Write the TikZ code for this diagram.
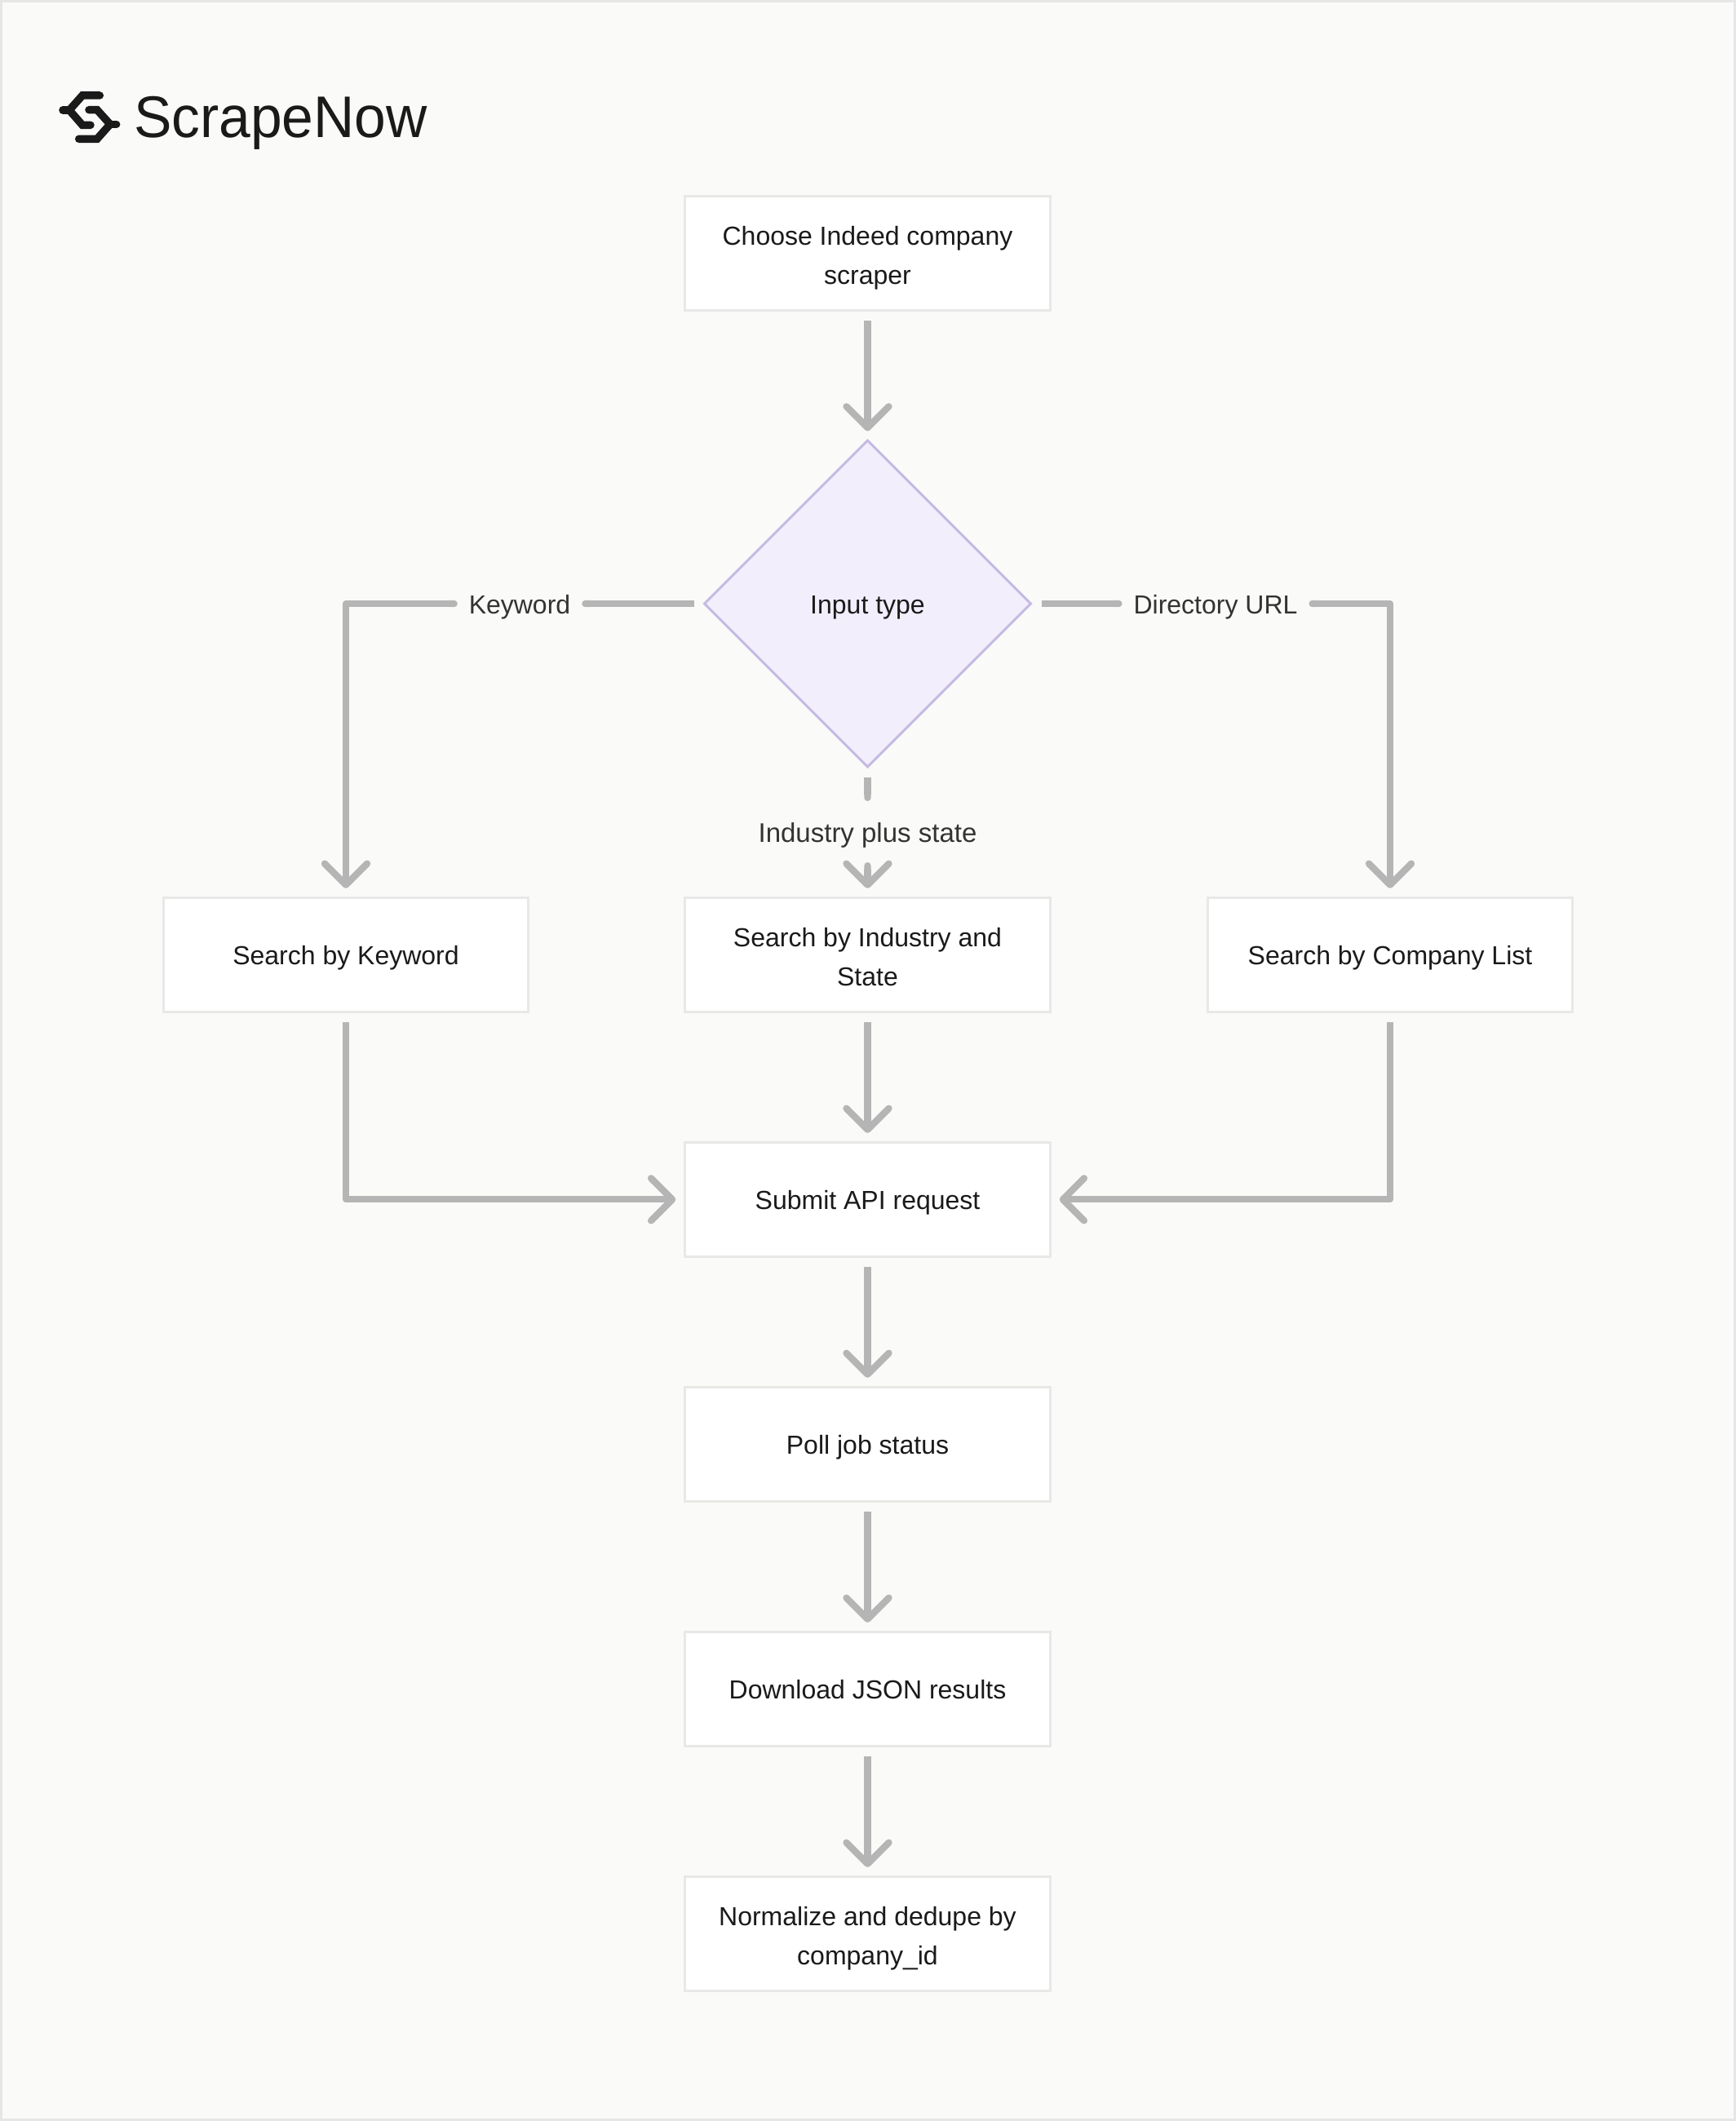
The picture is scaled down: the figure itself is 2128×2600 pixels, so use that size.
\documentclass[tikz,border=0pt]{standalone}
\usepackage{fontspec}
\setmainfont{Liberation Sans}
\newfontfamily\brandfont[FakeStretch=0.966]{Liberation Sans}
\usetikzlibrary{arrows.meta,shapes.geometric}
\definecolor{pagebg}{HTML}{FAFAF8}
\definecolor{pageedge}{HTML}{E6E6E6}
\definecolor{boxedge}{HTML}{E8E8E6}
\definecolor{wire}{HTML}{B5B5B5}
\definecolor{ink}{HTML}{1A1A1A}
\definecolor{labelink}{HTML}{333333}
\definecolor{dfill}{HTML}{F2EEFC}
\definecolor{dedge}{HTML}{C5BBE3}
\newcommand\linestrut{\rule[-8pt]{0pt}{41pt}}
\newcommand\liftstrut{\rule[-8pt]{0pt}{44.6pt}}
\newcommand\nextline{\\\linestrut}
\tikzset{
  x=1pt,y=-1pt,
  bodytext/.style={font=\fontsize{32}{48}\selectfont,execute at begin node=\linestrut},
  stepbox/.style={bodytext,draw=boxedge,line width=3pt,fill=white,minimum width=447.5pt,minimum height=140pt,
    align=center,inner sep=0pt,outer sep=0pt,text=ink},
  choice/.style={bodytext,shape=diamond,aspect=1,draw=dedge,line width=3pt,fill=dfill,minimum width=400pt,minimum height=400pt,
    inner sep=0pt,outer sep=0pt,text=ink},
  edgelabel/.style={bodytext,text=labelink,inner sep=0pt,outer sep=0pt},
  headtip/.style={-{Straight Barb[length=26pt,width=52pt,line cap=round,line join=round]}},
  conn/.style={draw=wire,line width=8.3pt,line join=round,headtip,shorten >=11.5pt,shorten <=13pt},
  resume/.style={conn,{Round Cap[length=4pt]}-{Straight Barb[length=26pt,width=52pt,line cap=round,line join=round]}},
  stub/.style={draw=wire,line width=8.3pt,-{Round Cap[length=4pt]},shorten <=13pt},
  logo/.style={draw=ink,line width=9.5pt,line cap=round,line join=miter},
}
\begin{document}
\begin{tikzpicture}
\useasboundingbox (0,0) rectangle (2128,2600);
\draw[draw=pageedge,fill=pagebg,line width=3pt] (1.5,1.5) rectangle (2126.5,2598.5);
% logo
\begin{scope}[shift={(45,61)},x=0.3333pt,y=-0.3333pt]
\draw[logo] (232,168) -- (168,168) -- (120,222) -- (168,277) -- (198,277);
\draw[logo] (96,222) -- (120,222);
\draw[logo] (155,328) -- (222,328) -- (270,274) -- (222,221) -- (192,221);
\draw[logo] (270,274) -- (293,274);
\end{scope}
\node[anchor=west,inner sep=0pt,text=ink,font=\brandfont\fontsize{72}{80}\selectfont] (brand) at (164,151) {ScrapeNow};
% nodes
\node[stepbox] (start) at (1063.5,310.3) {\liftstrut Choose Indeed company\nextline scraper};
\node[choice] (input) at (1063.5,740) {Input type};
\node[stepbox] (kw) at (424,1170.3) {Search by Keyword};
\node[stepbox] (ind) at (1063.5,1170.3) {\liftstrut Search by Industry and\nextline State};
\node[stepbox] (list) at (1704,1170.3) {Search by Company List};
\node[stepbox] (submit) at (1063.5,1470.3) {Submit API request};
\node[stepbox] (poll) at (1063.5,1770.3) {Poll job status};
\node[stepbox] (dl) at (1063.5,2070.3) {Download JSON results};
\node[stepbox] (norm) at (1063.5,2370.3) {\liftstrut Normalize and dedupe by\nextline company\_id};
% labels
\node[edgelabel] (lk) at (637,740) {Keyword};
\node[edgelabel] (ld) at (1490,740) {Directory URL};
\node[edgelabel,font=\fontsize{33}{48}\selectfont] (li) at (1063.5,1020) {Industry plus state};
% connectors
\draw[conn] (start) -- (input);
\draw[stub,shorten >=14pt] (input.west) -- (lk.east);
\draw[resume,shorten <=14pt] (lk.west) -| (kw.north);
\draw[stub,shorten >=14pt] (input.east) -- (ld.west);
\draw[resume,shorten <=14pt] (ld.east) -| (list.north);
\draw[stub] (input.south) -- ([yshift=38pt]li.center);
\draw[resume,shorten <=0pt] ([yshift=-37pt]li.center) -- (ind.north);
\draw[conn] (ind) -- (submit);
\draw[conn] (kw.south) |- (submit.west);
\draw[conn] (list.south) |- (submit.east);
\draw[conn] (submit) -- (poll);
\draw[conn] (poll) -- (dl);
\draw[conn] (dl) -- (norm);
\end{tikzpicture}
\end{document}
